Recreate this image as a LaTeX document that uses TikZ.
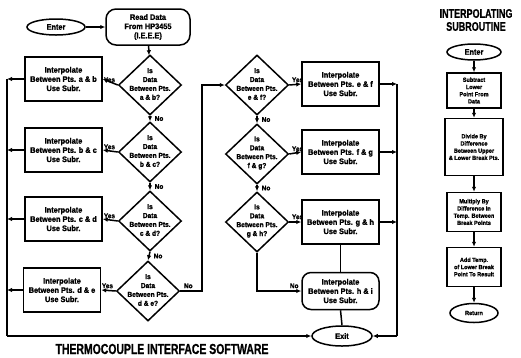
\documentclass[tikz,border=0pt]{standalone}
\usepackage{fontspec}
\setmainfont{Liberation Sans}
\newfontfamily\cond[FakeStretch=0.92,FakeBold=1.2]{Liberation Sans}
\newfontfamily\tcond[FakeStretch=0.72,FakeBold=0.8]{Liberation Sans}
\usetikzlibrary{shapes.geometric,arrows.meta,calc}
\begin{document}
\begin{tikzpicture}[x=1pt,y=-1pt,line width=1.5pt,
  >={Latex[length=5pt,width=4.5pt]},
  txt/.style={font=\cond\bfseries\fontsize{8}{9.2}\selectfont},
  stxt/.style={font=\cond\bfseries\fontsize{6}{7.2}\selectfont},
  box/.style={txt,draw,rectangle,minimum width=77pt,minimum height=44pt,inner sep=0pt,align=center},
  dia/.style={draw,diamond,minimum width=63pt,minimum height=60pt,inner sep=0pt},
  dtext/.style={txt,align=center,inner sep=0pt,font=\cond\bfseries\fontsize{7.2}{8.9}\selectfont},
  term/.style={txt,draw,ellipse,inner sep=0pt},
  sbox/.style={stxt,draw,rectangle,minimum width=54pt,inner sep=0pt,align=center},
  lab/.style={font=\cond\bfseries\fontsize{7}{8}\selectfont,inner sep=0pt},
  title/.style={font=\tcond\bfseries\fontsize{14.5}{15}\selectfont,inner sep=0pt,align=center}]
\useasboundingbox (0,0) rectangle (521,357);

% main flow
\node[term,minimum width=58pt,minimum height=16pt] (enter) at (56,27) {Enter};
\node[box,rounded corners=10pt,minimum width=84pt,minimum height=36pt] (read) at (148,27) {Read Data\\From HP3455\\(I.E.E.E)};

\node[dia] (d1) at (150,85) {};
\node[dtext] (t1) at ([yshift=1pt]d1) {Is\\Data\\Between Pts.\\a \& b?};
\node[dia] (d2) at (150,152) {};
\node[dtext] (t2) at ([yshift=1pt]d2) {Is\\Data\\Between Pts.\\b \& c?};
\node[dia] (d3) at (150,221) {};
\node[dtext] (t3) at ([yshift=1pt]d3) {Is\\Data\\Between Pts.\\c \& d?};
\node[dia] (d4) at (148,291) {};
\node[dtext] (t4) at ([yshift=1pt]d4) {Is\\Data\\Between Pts.\\d \& e?};

\node[box] (b1) at (63.5,79) {Interpolate\\Between Pts. a \& b\\Use Subr.};
\node[box] (b2) at (63.5,150) {Interpolate\\Between Pts. b \& c\\Use Subr.};
\node[box] (b3) at (63.5,219) {Interpolate\\Between Pts. c \& d\\Use Subr.};
\node[box] (b4) at (62,290) {Interpolate\\Between Pts. d \& e\\Use Subr.};

\node[dia] (d5) at (257,85) {};
\node[dtext] (t5) at ([yshift=1pt]d5) {Is\\Data\\Between Pts.\\e \& f?};
\node[dia] (d6) at (257,154) {};
\node[dtext] (t6) at ([yshift=1pt]d6) {Is\\Data\\Between Pts.\\f \& g?};
\node[dia] (d7) at (257,222) {};
\node[dtext] (t7) at ([yshift=1pt]d7) {Is\\Data\\Between Pts.\\g \& h?};

\node[box] (b5) at (340.5,84) {Interpolate\\Between Pts. e \& f\\Use Subr.};
\node[box] (b6) at (340.5,152) {Interpolate\\Between Pts. f \& g\\Use Subr.};
\node[box] (b7) at (340.5,222) {Interpolate\\Between Pts. g \& h\\Use Subr.};
\node[box,rounded corners=9pt,minimum height=37pt] (b8) at (340.5,291) {Interpolate\\Between Pts. h \& i\\Use Subr.};

\node[term,minimum width=60pt,minimum height=20pt] (exit) at (342,336) {Exit};

\coordinate (lb1) at (7,79);
\coordinate (lb2) at (7,150);
\coordinate (lb3) at (7,219);
\coordinate (lb4) at (7,290);
\coordinate (lbe) at (7,336);
\coordinate (rb5) at (397,84);
\coordinate (rb6) at (397,152);
\coordinate (rb7) at (397,222);
\coordinate (rbe) at (397,336);
\coordinate (k1) at (202,291);
\coordinate (k2) at (202,85);
\coordinate (k3) at (257,291);

\draw[->] (enter) -- (read);
\draw[->] (read) -- (d1);
\foreach \d/\b in {d1/b1,d2/b2,d3/b3,d4/b4} {
  \draw[->] (\d.west) -- (\b.east);
  \node[lab,anchor=south east] at ([xshift=-2pt,yshift=2pt]\d.west) {Yes};
}
\foreach \d/\b in {d5/b5,d6/b6,d7/b7} {
  \draw[->] (\d.east) -- (\b.west);
  \node[lab,anchor=south west] at ([xshift=2pt,yshift=2pt]\d.east) {Yes};
}
\foreach \a/\c in {d1/d2,d2/d3,d3/d4,d5/d6,d6/d7} {
  \draw[->] (\a.south) -- (\c.north);
  \node[lab,anchor=west] at ($(\a.south)!0.5!(\c.north)+(4,0)$) {No};
}
\draw[->] (d4.east) -- (k1) -- (k2) -- (d5.west);
\node[lab,anchor=south west] at ([xshift=3pt,yshift=2pt]d4.east) {No};
\draw[->] (d7.south) -- (k3) -- (b8.west);
\node[lab,anchor=south east] at ([xshift=-2pt,yshift=2pt]b8.west) {No};
\draw (b7.south) -- (b8.north);
\draw (b8.south) -- (exit.north);

% left bus
\draw[->] (b1.west) -- (lb1);
\draw[->] (b2.west) -- (lb2);
\draw[->] (b3.west) -- (lb3);
\draw[->] (b4.west) -- (lb4);
\draw (lb1) -- (lbe);
\draw[->] (lbe) -- (exit.west);
% right bus
\draw[->] (b5.east) -- (rb5);
\draw[->] (b6.east) -- (rb6);
\draw[->] (b7.east) -- (rb7);
\draw (rb5) -- (rbe);
\draw[->] (rbe) -- (exit.east);

\node[title] (main) at (162,349) {THERMOCOUPLE INTERFACE SOFTWARE};

% subroutine
\node[title,font=\tcond\bfseries\fontsize{12.5}{13}\selectfont] (stitle) at (476,20) {INTERPOLATING\\SUBROUTINE};
\node[term,minimum width=54pt,minimum height=16pt] (se) at (474,52) {Enter};
\node[sbox,minimum height=35pt] (s1) at (474,90.5) {Subtract\\Lower\\Point From\\Data};
\node[sbox,minimum width=58pt,minimum height=57pt] (s2) at (474,147) {Divide By\\Difference\\Between Upper\\\& Lower Break Pts.};
\node[sbox,minimum height=39pt] (s3) at (474,212) {Multiply By\\Difference In\\Temp. Between\\Break Points};
\node[sbox,minimum height=39pt] (s4) at (474,267) {Add Temp.\\of Lower Break\\Point To Result};
\node[term,stxt,minimum width=48pt,minimum height=19pt] (sr) at (474,313) {Return};
\draw[->] (se) -- (s1);
\draw[->] (s1) -- (s2);
\draw[->] (s2) -- (s3);
\draw[->] (s3) -- (s4);
\draw[->] (s4) -- (sr);
\end{tikzpicture}
\end{document}
